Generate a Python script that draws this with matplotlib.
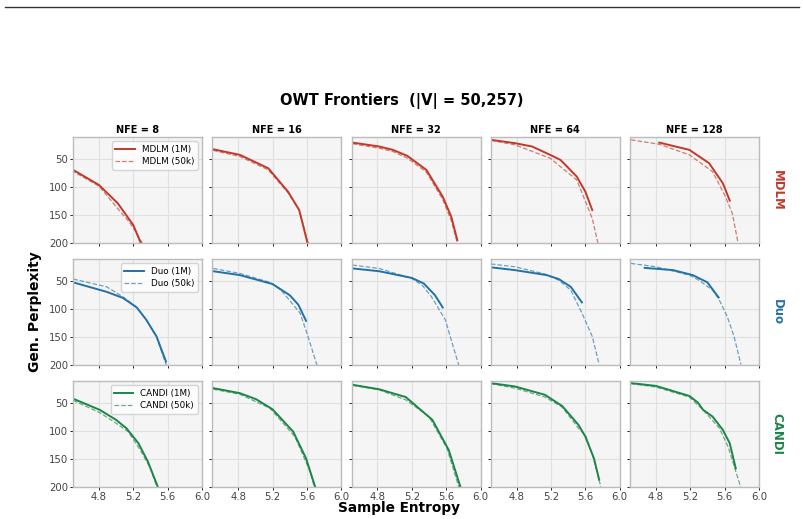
import numpy as np
import matplotlib
matplotlib.use('Agg')
import matplotlib.pyplot as plt
from matplotlib.lines import Line2D

plt.rcParams['font.family'] = ['DejaVu Sans']

nfe_list = [8, 16, 32, 64, 128]
models = ['MDLM', 'Duo', 'CANDI']
colors = {'MDLM': '#c0392b', 'Duo': '#2471a3', 'CANDI': '#1e8449'}

# (entropy, perplexity) per model / NFE
mdlm_1m = {
    8:   ([4.50, 4.80, 5.02, 5.20, 5.30], [69, 96, 129, 168, 205]),
    16:  ([4.51, 4.82, 5.15, 5.38, 5.51, 5.61], [32, 42, 66, 108, 141, 202]),
    32:  ([4.51, 4.82, 4.98, 5.15, 5.37, 5.56, 5.66, 5.73], [20, 27, 33, 44, 69, 117, 153, 195]),
    64:  ([4.50, 4.78, 4.98, 5.19, 5.31, 5.50, 5.60, 5.68], [15, 21, 27, 42, 51, 81, 108, 141]),
    128: ([4.84, 5.19, 5.42, 5.58, 5.66], [20, 33, 57, 93, 124]),
}
mdlm_50k = {
    8:   ([4.48, 4.80, 5.00, 5.15, 5.23, 5.32], [70, 98, 135, 162, 180, 205]),
    16:  ([4.51, 4.82, 5.15, 5.38, 5.51, 5.62], [34, 45, 69, 110, 141, 204]),
    32:  ([4.51, 4.82, 4.98, 5.15, 5.37, 5.56, 5.66, 5.73], [22, 30, 36, 48, 73, 122, 160, 200]),
    64:  ([4.50, 4.78, 5.19, 5.50, 5.68, 5.75], [16, 24, 48, 87, 156, 203]),
    128: ([4.51, 4.84, 5.19, 5.46, 5.61, 5.69, 5.76], [15, 23, 42, 72, 117, 147, 203]),
}
duo_1m = {
    8:   ([4.50, 4.89, 5.08, 5.24, 5.35, 5.47, 5.58], [52, 69, 80, 97, 119, 149, 194]),
    16:  ([4.51, 4.82, 5.20, 5.40, 5.50, 5.59], [32, 39, 55, 75, 92, 121]),
    32:  ([4.51, 4.82, 5.20, 5.34, 5.47, 5.56], [27, 32, 44, 54, 75, 97]),
    64:  ([4.50, 4.78, 5.15, 5.29, 5.43, 5.56], [25, 30, 39, 46, 60, 88]),
    128: ([4.67, 5.00, 5.23, 5.40, 5.53], [26, 30, 39, 52, 79]),
}
duo_50k = {
    8:   ([4.50, 4.89, 5.08, 5.24, 5.35, 5.47, 5.59], [46, 60, 78, 97, 119, 150, 203]),
    16:  ([4.51, 4.82, 5.17, 5.30, 5.52, 5.60, 5.72], [27, 36, 52, 66, 107, 143, 202]),
    32:  ([4.51, 4.82, 5.20, 5.32, 5.43, 5.59, 5.67, 5.75], [21, 27, 45, 57, 78, 119, 161, 202]),
    64:  ([4.50, 4.78, 5.13, 5.29, 5.43, 5.56, 5.68, 5.76], [19, 24, 37, 48, 66, 107, 149, 199]),
    128: ([4.51, 4.80, 5.19, 5.30, 5.46, 5.53, 5.63, 5.71, 5.79], [18, 24, 39, 48, 66, 81, 113, 149, 199]),
}
candi_1m = {
    8:   ([4.50, 4.81, 5.00, 5.12, 5.26, 5.37, 5.49], [42, 62, 80, 95, 122, 155, 202]),
    16:  ([4.51, 4.82, 5.01, 5.20, 5.44, 5.59, 5.70], [23, 32, 43, 61, 101, 149, 202]),
    32:  ([4.51, 4.82, 5.13, 5.44, 5.63, 5.77], [17, 25, 39, 80, 134, 202]),
    64:  ([4.50, 4.78, 5.13, 5.33, 5.52, 5.60, 5.70, 5.76], [14, 20, 35, 55, 89, 110, 149, 187]),
    128: ([4.51, 4.80, 5.19, 5.29, 5.35, 5.46, 5.58, 5.66, 5.73], [14, 19, 37, 49, 62, 74, 98, 122, 167]),
}
candi_50k = {
    8:   ([4.50, 4.81, 5.00, 5.14, 5.28, 5.39, 5.48], [45, 67, 86, 101, 134, 164, 202]),
    16:  ([4.51, 4.82, 5.17, 5.46, 5.63, 5.69], [25, 34, 59, 110, 170, 202]),
    32:  ([4.51, 4.82, 5.13, 5.40, 5.61, 5.75], [18, 26, 44, 74, 131, 202]),
    64:  ([4.50, 4.78, 5.13, 5.33, 5.52, 5.60, 5.69, 5.78], [15, 23, 39, 57, 95, 107, 146, 200]),
    128: ([4.51, 4.80, 5.19, 5.35, 5.54, 5.64, 5.79], [15, 21, 39, 62, 95, 128, 202]),
}

curves = {
    'MDLM': (mdlm_1m, mdlm_50k),
    'Duo': (duo_1m, duo_50k),
    'CANDI': (candi_1m, candi_50k),
}

fig, axes = plt.subplots(3, 5, sharex=True, sharey=True)
fig.set_size_inches(8.04, 5.19)
fig.subplots_adjust(left=0.091, right=0.944, top=0.736, bottom=0.062,
                    wspace=0.08, hspace=0.151)

for r, m in enumerate(models):
    c = colors[m]
    full, small = curves[m]
    for k, nfe in enumerate(nfe_list):
        ax = axes[r, k]
        ax.set_facecolor('#f5f5f5')
        ax.grid(True, color='#e0e0e0', linewidth=0.8)
        ax.set_axisbelow(True)
        x1, y1 = full[nfe]
        x2, y2 = small[nfe]
        ax.plot(x1, y1, color=c, linewidth=1.4, label=m + ' (1M)')
        ax.plot(x2, y2, color=c, linewidth=0.9, linestyle='--', alpha=0.65,
                label=m + ' (50k)')
        for s in ax.spines.values():
            s.set_color('#bcbcbc')
            s.set_linewidth(1.0)
        ax.tick_params(labelsize=7.3, labelcolor='#444444', length=2.5,
                       width=0.6, pad=1.2)
        if r == 0:
            ax.set_title('NFE = %d' % nfe, fontsize=7, fontweight='bold', pad=3)
        if k == 0:
            ax.legend(loc='upper right', fontsize=6.3, framealpha=0.8,
                      edgecolor='#cccccc', handlelength=2.2, borderpad=0.4,
                      labelspacing=0.4)
        if k == 4:
            ax.text(1.14, 0.5, m, transform=ax.transAxes, rotation=-90,
                    ha='center', va='center', fontsize=8.5, fontweight='bold',
                    color=c)

axes[0, 0].set_xlim(4.5, 6.0)
axes[0, 0].set_xticks([4.8, 5.2, 5.6, 6.0])
axes[0, 0].set_ylim(200, 10)
axes[0, 0].set_yticks([50, 100, 150, 200])

fig.text(0.5, 0.805, 'OWT Frontiers  (|V| = 50,257)', ha='center', va='center',
         fontsize=10.5, fontweight='bold')
fig.text(0.496, 0.021, 'Sample Entropy', ha='center', va='center',
         fontsize=9.8, fontweight='bold')
fig.text(0.044, 0.40, 'Gen. Perplexity', ha='center', va='center',
         rotation=90, fontsize=10, fontweight='bold')

fig.add_artist(Line2D([0.006, 0.994], [0.986, 0.986], color='#333333',
                      linewidth=1.0))

plt.savefig('out.png', dpi=100)
